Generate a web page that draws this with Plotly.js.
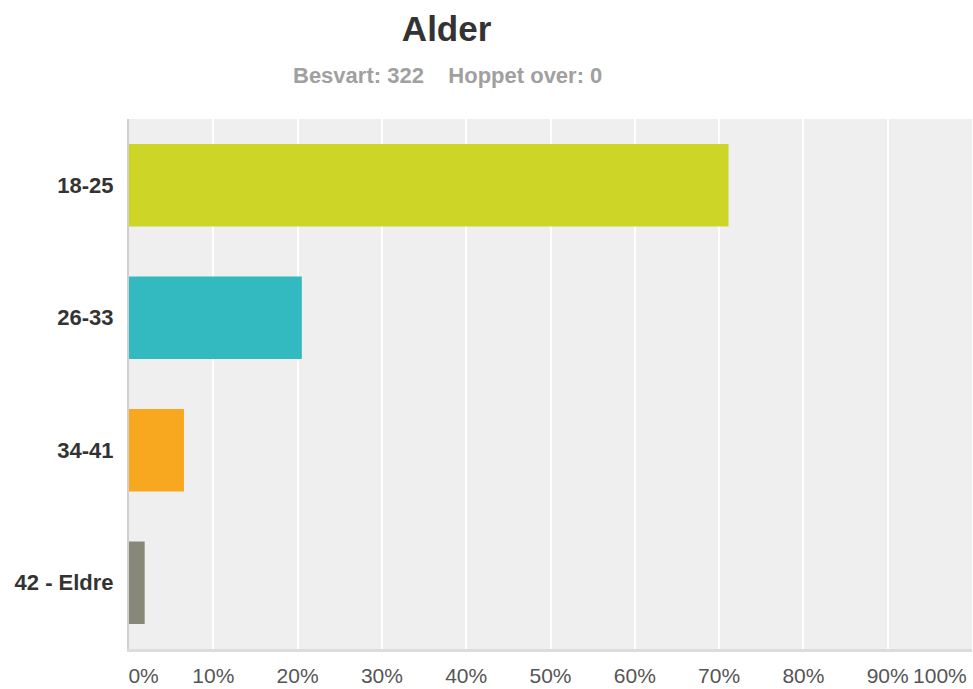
<!DOCTYPE html>
<html>
<head>
<meta charset="utf-8">
<script src="https://cdn.plot.ly/plotly-3.0.1.min.js"></script>
<style>html,body{margin:0;padding:0;background:#fff;}#chart{width:973px;height:689px;}</style>
</head>
<body>
<div id="chart"></div>
<script>
const categories = ["18-25", "26-33", "34-41", "42 - Eldre"];
const percentages = [71.12, 20.5, 6.52, 1.86];
const barColors = ["#cdd527", "#33b9c0", "#f7a81e", "#87887a"];
const tickValues = [0, 10, 20, 30, 40, 50, 60, 70, 80, 90, 100];
const tickLabels = ["0%", "10%", "20%", "30%", "40%", "50%", "60%", "70%", "80%", "90%", "100%"];
const titleText = "Alder";
const subtitleText = "Besvart: 322&nbsp;&nbsp;&nbsp;&nbsp;Hoppet over: 0";

const fontFam = "Liberation Sans, Arial, Helvetica, sans-serif";
const NB = "\u00a0";

// edge labels are nudged inward (as in the reference) with non-breaking spaces
const shownLabels = tickLabels.map(function (t, i) {
  if (i === 0) return NB.repeat(5) + t;
  if (i === tickLabels.length - 1) return t + NB.repeat(11);
  return t;
});

const trace = {
  type: "bar",
  orientation: "h",
  x: percentages,
  y: categories,
  marker: {color: barColors},
  hoverinfo: "none"
};

const layout = {
  width: 973,
  height: 689,
  margin: {l: 129, r: 1, t: 119, b: 40},
  paper_bgcolor: "#ffffff",
  plot_bgcolor: "#efefef",
  bargap: 0.376,
  showlegend: false,
  title: {
    text: "<b>" + titleText + "</b>",
    font: {family: fontFam, size: 35, color: "#333333"},
    x: 0.459, xanchor: "center", xref: "container",
    y: 0.958, yanchor: "middle", yref: "container"
  },
  xaxis: {
    range: [0, 100],
    fixedrange: true,
    tickmode: "array",
    tickvals: tickValues,
    ticktext: shownLabels,
    ticks: "",
    ticklabelstandoff: 6,
    ticklabeloverflow: "allow",
    tickfont: {family: fontFam, size: 21, color: "#555555"},
    showgrid: true,
    gridcolor: "#ffffff",
    gridwidth: 2,
    zeroline: false,
    showline: true,
    linecolor: "#dcdcdc",
    linewidth: 3,
    automargin: false
  },
  yaxis: {
    type: "category",
    categoryorder: "array",
    categoryarray: categories,
    autorange: "reversed",
    fixedrange: true,
    ticks: "",
    ticklabelstandoff: 9,
    tickfont: {family: fontFam, size: 22, color: "#333333", weight: "bold"},
    showgrid: false,
    zeroline: false,
    showline: true,
    linecolor: "#cfcfcf",
    linewidth: 2,
    automargin: false
  },
  annotations: [{
    text: "<b>" + subtitleText + "</b>",
    xref: "paper", yref: "paper",
    x: 0.378, y: 1.083,
    xanchor: "center", yanchor: "middle",
    showarrow: false,
    font: {family: fontFam, size: 22, color: "#a0a0a0"}
  }]
};

Plotly.newPlot("chart", [trace], layout, {displayModeBar: false, staticPlot: true});
</script>
</body>
</html>
